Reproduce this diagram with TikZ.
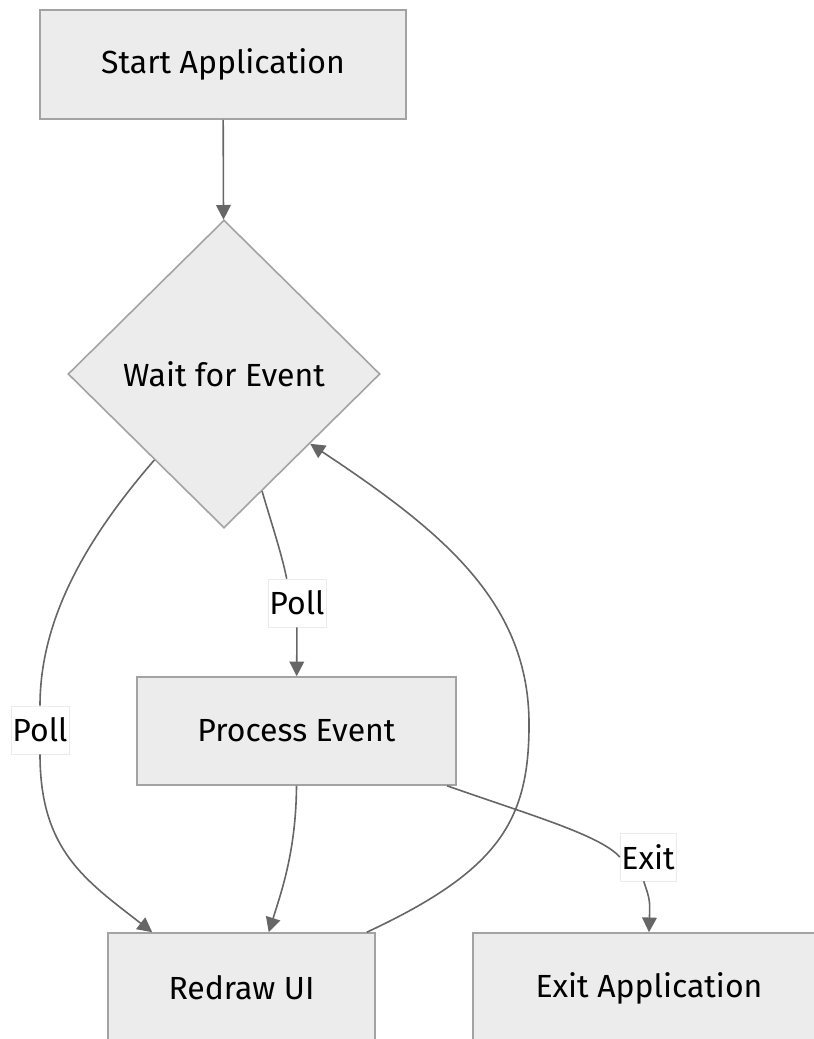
\documentclass[tikz,border=0pt]{standalone}
\usepackage{fontspec}
\setmainfont{Fira Sans}
\usetikzlibrary{shapes.geometric,arrows.meta}
\definecolor{boxfill}{HTML}{ECECEC}
\definecolor{boxline}{HTML}{A3A3A3}
\definecolor{edgeline}{HTML}{666666}

\begin{document}
\begin{tikzpicture}[x=0.75pt, y=-0.75pt,
  font=\fontsize{24pt}{28pt}\selectfont,
  box/.style={draw=boxline, fill=boxfill, line width=1.2pt, rectangle},
  decision/.style={draw=boxline, fill=boxfill, line width=1.2pt, diamond,
    minimum width=234pt, minimum height=231pt, inner sep=0pt},
  lbl/.style={fill=white, draw=black!8, line width=0.4pt, inner xsep=1pt,
    inner ysep=0pt, minimum height=36pt},
  edge/.style={draw=edgeline, line width=1.2pt},
  arr/.style={edge, -{Triangle[length=11pt, width=11pt]}}]
\path[use as bounding box, clip] (0, 0) rectangle (814, 1039);

\node[box, minimum width=274.5pt, minimum height=81.75pt] (start) at (223, 64.5) {Start Application};
\node[decision] (wait) at (224, 374) {Wait for Event};
\node[box, minimum width=239.25pt, minimum height=81pt] (process) at (296.5, 731) {Process Event};
\node[box, minimum width=200.25pt, minimum height=82.5pt] (redraw) at (241.5, 988) {Redraw UI};
\node[box, minimum width=264pt, minimum height=82.5pt] (exitapp) at (649, 988) {Exit Application};

\node[lbl] (pollleft) at (40, 730) {Poll};
\node[lbl] (pollmid) at (297, 603) {Poll};
\node[lbl] (exitlbl) at (648, 857) {Exit};

\draw[arr] (start) -- (wait);
\draw[edge] (wait.-129) .. controls (85, 540) and (40, 620) .. (pollleft.north);
\draw[arr] (pollleft.south) .. controls (40, 850) and (85, 880) .. (redraw.148);
\draw[edge] (wait.-72) .. controls (272, 525) and (282, 555) .. (pollmid.113);
\draw[arr] (pollmid) -- (process);
\draw[arr] (process.south) .. controls (296, 850) and (282, 890) .. (redraw.64);
\draw[arr] (redraw.24) .. controls (500, 870) and (530, 820) .. (529, 720)
  .. controls (527, 600) and (440, 530) .. (wait.-39);
\draw[edge] (process.-20) .. controls (530, 815) and (600, 835) .. (exitlbl.west);
\draw[arr] (exitlbl.-100) .. controls (650, 900) .. (exitapp.north);
\end{tikzpicture}
\end{document}
